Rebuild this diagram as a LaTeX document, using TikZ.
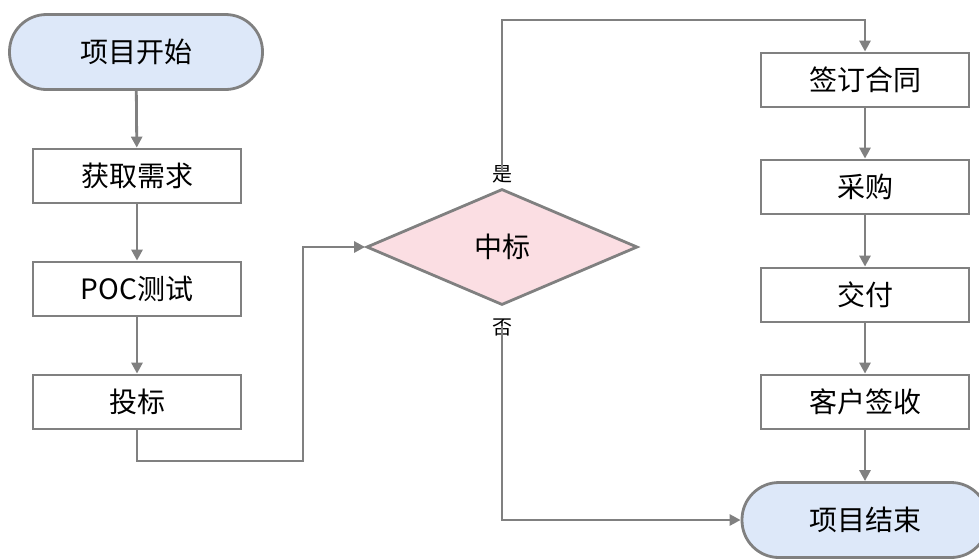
\documentclass[tikz,border=0pt]{standalone}
\usepackage{fontspec}
\setmainfont{Noto Sans CJK SC}
\usepackage{tikz}
\usetikzlibrary{arrows.meta,shapes.geometric}
\definecolor{linegray}{HTML}{808080}
\definecolor{startblue}{HTML}{DDE8F9}
\definecolor{decpink}{HTML}{FBDEE3}
\tikzset{
  stepbox/.style={draw=linegray,line width=2.8pt,minimum width=208pt,minimum height=54pt,
    inner sep=0pt,font=\fontsize{28}{32}\selectfont},
  terminal/.style={stepbox,fill=startblue,minimum width=253pt,minimum height=75pt,rounded corners=37pt},
  decision/.style={stepbox,diamond,fill=decpink,minimum width=271pt,minimum height=116pt},
  branch/.style={inner sep=0pt,font=\fontsize{20}{24}\selectfont},
  flow/.style={draw=linegray,line width=2.8pt,-{Triangle[length=11pt,width=11pt]}}
}

\begin{document}
\begin{tikzpicture}[x=1pt,y=-1pt]
            \useasboundingbox (0,0) rectangle (979,558);
            \clip (0,0) rectangle (979,558);
            % left column
            \node[terminal] (start) at (136,52) {项目开始};
            \node[stepbox] (req) at (137,176) {获取需求};
            \node[stepbox] (poc) at (137,289) {POC测试};
            \node[stepbox] (bid) at (137,402) {投标};
            % decision
            \node[decision] (win) at (502,247) {中标};
            \node[branch] (yes) at (502,174) {是};
            \node[branch] (no) at (502,327) {否};
            % right column
            \node[stepbox] (sign) at (865,80) {签订合同};
            \node[stepbox] (buy) at (865,187) {采购};
            \node[stepbox] (deliver) at (865,295) {交付};
            \node[stepbox] (accept) at (865,402) {客户签收};
            \node[terminal,minimum width=246pt] (finish) at (865,520) {项目结束};
            \coordinate (low) at (303,461);
            \coordinate (top) at (502,20);
            \draw[flow] (start) -- (req);
            \draw[flow] (req) -- (poc);
            \draw[flow] (poc) -- (bid);
            \draw[flow] (bid.south) |- (low) |- (win.west);
            \draw[flow] ([yshift=-7pt]yes.north) -- (top) -| (sign.north);
            \draw[flow] ([yshift=10pt]no.south) |- (finish.west);
            \draw[flow] (sign) -- (buy);
            \draw[flow] (buy) -- (deliver);
            \draw[flow] (deliver) -- (accept);
            \draw[flow] (accept) -- (finish);
        \end{tikzpicture}
\end{document}
